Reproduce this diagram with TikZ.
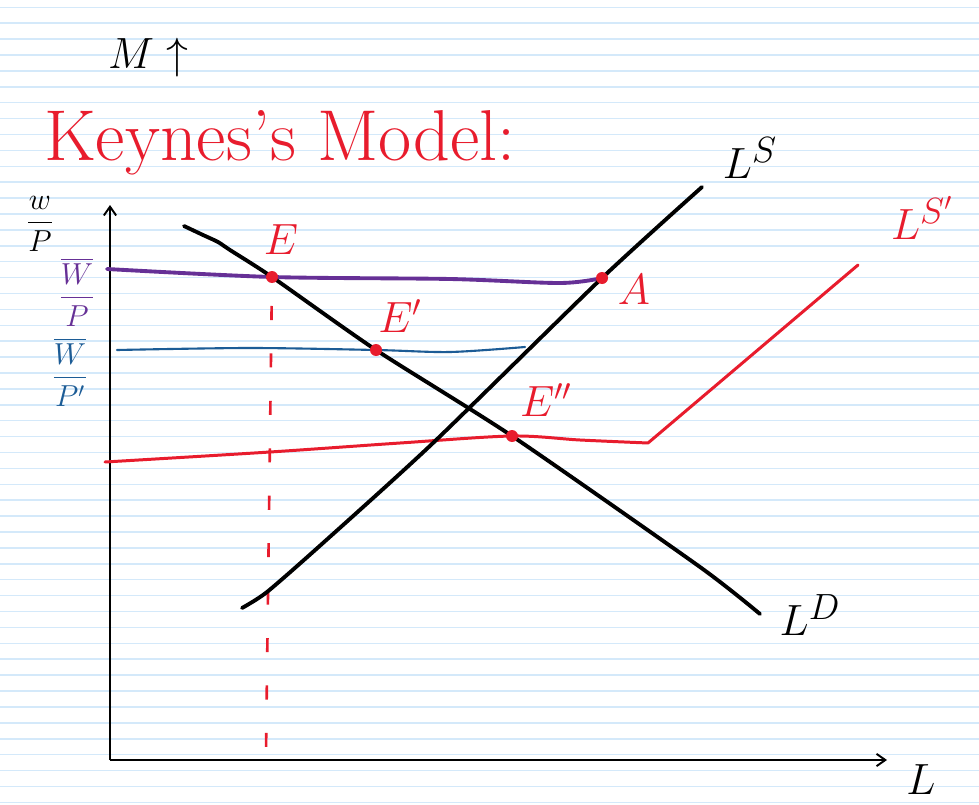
\documentclass[tikz,border=0pt]{standalone}
\usepackage{amsmath}
\usetikzlibrary{arrows.meta}
\definecolor{penred}{RGB}{232,28,45}
\definecolor{penpurple}{RGB}{102,48,150}
\definecolor{penblue}{RGB}{28,92,150}
\definecolor{ruled}{RGB}{212,233,250}

\begin{document}
\begin{tikzpicture}[x=0.02cm,y=-0.02cm,
    curve/.style={line width=2.2pt,line cap=round,line join=round},
    axis/.style={line width=1.1pt,-{Straight Barb[length=5pt,width=7pt]}},
    dot/.style={circle,fill=penred,inner sep=0pt,minimum size=0.24cm},
    lbl/.style={inner sep=1pt,font=\fontsize{24}{26}\selectfont},
    biglbl/.style={inner sep=1pt,font=\fontsize{30}{32}\selectfont},
    fraclbl/.style={inner sep=0pt,font=\fontsize{18}{20}\selectfont}]
    \useasboundingbox (0,0) rectangle (979,804);
    \fill[white] (0,0) rectangle (979,804);
    % ruled paper
    \foreach \y in {0,...,50}{
        \draw[ruled,line width=0.9pt] (0,7.3+15.9*\y) -- (979,7.3+15.9*\y);
    }
    % axes
    \coordinate (O) at (110,760);
    \coordinate (ytop) at (110,205);
    \coordinate (xend) at (887,760);
    \draw[axis] (O) -- (ytop);
    \draw[axis] (O) -- (xend);
    % equilibria
    \coordinate (E) at (272,277);
    \coordinate (Ep) at (376,350);
    \coordinate (Epp) at (512,436);
    \coordinate (A) at (602,278);
    \coordinate (kink) at (648,443);
    % wage lines
    \draw[curve,penpurple] plot[smooth,tension=0.5] coordinates {(107,269) (E) (450,279) (560,283) (A)};
    \draw[curve,penblue,line width=1.2pt] plot[smooth,tension=0.5] coordinates {(117,350) (250,348) (Ep) (450,352) (525,347)};
    \draw[curve,penred,line width=1.7pt] plot[smooth,tension=0.5] coordinates {(105,462) (270,452) (400,443) (Epp) (580,440) (kink)} -- (858,265);
    \draw[penred,line width=1.5pt,dash pattern=on 8pt off 19pt,dash phase=10.5pt] (E) -- (266,752);
    % L^D and L^S
    \draw[curve] plot[smooth,tension=0.4] coordinates {(184,226) (203,235) (218,242) (230,250) (E) (Ep) (Epp) (700,567) (760,614)};
    \draw[curve] plot[smooth,tension=0.4] coordinates {(242,608) (267,592) (323,543) (433,443) (A) (702,187)};
    \foreach \p in {E,Ep,Epp,A}{
        \node[dot] (\p dot) at (\p) {};
    }
    % labels
    \node[lbl,penred] (Elbl) at (281,240) {$E$};
    \node[lbl,penred] (Eplbl) at (400,316) {$E'$};
    \node[lbl,penred] (Epplbl) at (546,400) {$E''$};
    \node[lbl,penred] (Albl) at (634,290) {$A$};
    \node[biglbl] (LSlbl) at (750,158) {$L^S$};
    \node[biglbl,penred] (LSplbl) at (922,218) {$L^{S'}$};
    \node[biglbl] (LDlbl) at (810,615) {$L^D$};
    \node[lbl,font=\fontsize{28}{30}\selectfont] (Llbl) at (921,780) {$L$};
    \node[fraclbl] (wPlbl) at (40,224) {$\dfrac{w}{P}$};
    \node[fraclbl,penpurple] (Wbarlbl) at (77,292) {$\dfrac{\overline{W}}{P}$};
    \node[fraclbl,penblue] (Wbarplbl) at (70,372) {$\dfrac{\overline{W}}{P'}$};
    \node[lbl,font=\fontsize{38}{40}\selectfont] (Mlbl) at (148,58) {$M\uparrow$};
    \node[penred,font=\fontsize{41}{43}\selectfont] (title) at (280,143) {Keynes's Model:};
\end{tikzpicture}
\end{document}
